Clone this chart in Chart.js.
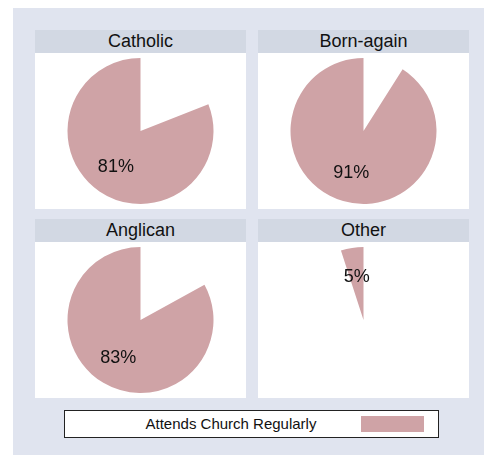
<!DOCTYPE html>
<html>
<head>
<meta charset="utf-8">
<script src="https://cdn.jsdelivr.net/npm/chart.js@4"></script>
<style>
  body { margin: 0; background: #fff; font-family: "Liberation Sans", Arial, sans-serif; }
  #bg { position: absolute; left: 13px; top: 8px; width: 471px; height: 447px; background: #e0e4ef; }
  .panel { position: absolute; width: 211px; }
  .head { height: 23px; background: #d2d8e3; text-align: center; font-size: 18px; line-height: 23px; color: #111; }
  .body { background: #fff; height: 156px; position: relative; }
  .body canvas { display: block; }
  #legend { position: absolute; left: 64px; top: 410px; width: 373px; height: 26px; border: 1px solid #222; background: #fff; }
  #legend span { position: absolute; left: 0; width: 332px; text-align: center; font-size: 15px; line-height: 26px; color: #111; }
  #legend i { position: absolute; left: 296px; top: 5px; width: 63px; height: 16px; background: #cfa3a6; }
</style>
</head>
<body>
<div id="bg"></div>
<div class="panel" style="left:35px;top:30px"><div class="head" id="h0"></div><div class="body"><canvas id="c0" width="211" height="156"></canvas></div></div>
<div class="panel" style="left:258px;top:30px"><div class="head" id="h1"></div><div class="body"><canvas id="c1" width="211" height="156"></canvas></div></div>
<div class="panel" style="left:35px;top:219px"><div class="head" id="h2"></div><div class="body"><canvas id="c2" width="211" height="156"></canvas></div></div>
<div class="panel" style="left:258px;top:219px"><div class="head" id="h3"></div><div class="body"><canvas id="c3" width="211" height="156"></canvas></div></div>
<div id="legend"><span id="legText"></span><i></i></div>
<script>
const categories = ['Catholic', 'Born-again', 'Anglican', 'Other'];
const attends = [81, 91, 83, 5];
const seriesName = 'Attends Church Regularly';
const sliceColor = '#cfa3a6';

document.getElementById('legText').textContent = seriesName;

// percent label at 60% of the radius, on the middle angle of the visible slice (index 1)
const pctLabel = {
  id: 'pctLabel',
  afterDatasetsDraw(chart) {
    const ctx = chart.ctx;
    const arc = chart.getDatasetMeta(0).data[1];
    const p = arc.getProps(['x', 'y', 'startAngle', 'endAngle', 'outerRadius']);
    const mid = (p.startAngle + p.endAngle) / 2;
    const r = p.outerRadius * 0.6;
    ctx.save();
    ctx.font = '18px "Liberation Sans", Arial, sans-serif';
    ctx.fillStyle = '#111';
    ctx.textAlign = 'center';
    ctx.textBaseline = 'middle';
    ctx.fillText(chart.data.datasets[0].data[1] + '%', p.x + Math.cos(mid) * r, p.y + Math.sin(mid) * r);
    ctx.restore();
  }
};

categories.forEach((name, i) => {
  document.getElementById('h' + i).textContent = name;
  const pct = attends[i];
  new Chart(document.getElementById('c' + i), {
    type: 'pie',
    plugins: [pctLabel],
    options: {
      responsive: false,
      animation: false,
      radius: 73,
      plugins: {
        legend: { display: false },
        tooltip: { enabled: false }
      }
    },
    data: {
      labels: ['Rest', seriesName],
      datasets: [{
        data: [100 - pct, pct],
        backgroundColor: ['rgba(0,0,0,0)', sliceColor],
        borderWidth: 0
      }]
    }
  });
});
</script>
</body>
</html>
